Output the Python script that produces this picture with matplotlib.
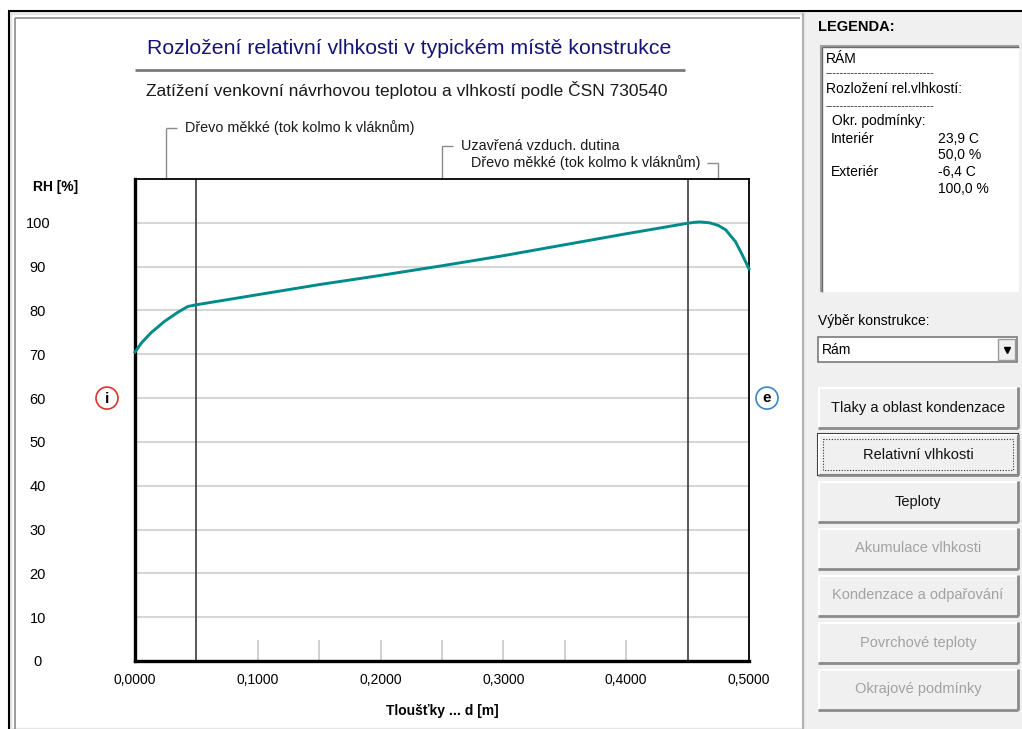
import matplotlib
matplotlib.use("Agg")
import matplotlib.pyplot as plt
from matplotlib import font_manager
from matplotlib.patches import Rectangle, Circle

# font: narrow sans like the old windows UI, if available
names = {f.name for f in font_manager.fontManager.ttflist}
narrow = "Liberation Sans Narrow" if "Liberation Sans Narrow" in names else "Liberation Sans"
plt.rcParams["font.family"] = [narrow, "DejaVu Sans"]

# data
thickness_m = [0.0, 0.005, 0.013, 0.024, 0.035, 0.043, 0.05, 0.1, 0.15, 0.2, 0.25,
               0.3, 0.35, 0.4, 0.45, 0.455, 0.46, 0.468, 0.475, 0.481, 0.489, 0.4945, 0.5]
rh_pct = [70.5, 72.5, 74.9, 77.5, 79.6, 80.9, 81.3, 83.6, 85.9, 88.0, 90.2,
          92.5, 95.0, 97.5, 99.9, 100.1, 100.2, 100.0, 99.4, 98.4, 95.7, 92.7, 89.5]
layer_edges = [0.05, 0.45]
layer_centers = [0.025, 0.25, 0.475]
layer_names = ["Dřevo měkké (tok kolmo k vláknům)", "Uzavřená vzduch. dutina",
               "Dřevo měkké (tok kolmo k vláknům)"]
xticks = [0.0, 0.1, 0.2, 0.3, 0.4, 0.5]
xticklabels = ["0,0000", "0,1000", "0,2000", "0,3000", "0,4000", "0,5000"]
minor_ticks = [0.1, 0.15, 0.2, 0.25, 0.3, 0.35, 0.4]
yticks = list(range(0, 101, 10))

legend_lines = ["RÁM", "-" * 30, "Rozložení rel.vlhkostí:", "-" * 30]
bc_rows = [("Interiér", "23,9 C"), ("", "50,0 %"), ("Exteriér", "-6,4 C"), ("", "100,0 %")]
buttons = ["Tlaky a oblast kondenzace", "Relativní vlhkosti", "Teploty",
           "Akumulace vlhkosti", "Kondenzace a odpařování", "Povrchové teploty",
           "Okrajové podmínky"]
buttons_enabled = [True, True, True, False, False, False, False]

W, H = 1022, 729
fig = plt.figure(figsize=(W / 100, H / 100), dpi=100)
fig.patch.set_facecolor("white")

# background axes in pixel coordinates (y downwards)
bg = fig.add_axes([0, 0, 1, 1], zorder=0)
bg.set_xlim(0, W)
bg.set_ylim(H, 0)
bg.axis("off")


def hline(x0, x1, y, c, lw=1.0):
    bg.plot([x0, x1], [y, y], color=c, lw=lw, solid_capstyle="butt")


def vline(x, y0, y1, c, lw=1.0):
    bg.plot([x, x], [y0, y1], color=c, lw=lw, solid_capstyle="butt")


# window frame
bg.add_patch(Rectangle((8, 11), 797, H - 11, fc="white", ec="none"))
bg.add_patch(Rectangle((805, 11), W - 805, H - 11, fc="#f0f0f0", ec="none"))
hline(8, W, 11, "black", 1.5)
vline(8.5, 11, H, "black", 1.5)
bg.add_patch(Rectangle((10, 13), 793, H - 13, fc="none", ec="#e6e6e6", lw=2.5))
vline(15, 18, H, "#8c8c8c", 1.2)
hline(15, 800, 18, "#8c8c8c", 1.2)
vline(803, 13, H, "#a8a8a8", 1.2)

# main chart
ax = fig.add_axes([135 / W, 1 - 661 / H, 614 / W, 482 / H], zorder=2)
ax.set_xlim(0, 0.5)
ax.set_ylim(0, 110)
ax.set_yticks(yticks)
ax.set_xticks(xticks)
ax.set_xticklabels(xticklabels)
ax.tick_params(length=0, labelsize=10)
ax.tick_params(axis="y", pad=70, labelsize=10.5)
for lab in ax.get_yticklabels():
    lab.set_horizontalalignment("center")
ax.tick_params(axis="x", pad=9)
ax.yaxis.grid(True, color="#d6d6d6", lw=1.5)
ax.set_axisbelow(True)
for side in ["left", "bottom"]:
    ax.spines[side].set_linewidth(2.4)
for side in ["top", "right"]:
    ax.spines[side].set_linewidth(1.3)
ax.vlines(minor_ticks, 0, 4.8, color="#c8c8c8", lw=1.2)
for e in layer_edges:
    ax.axvline(e, color="#3c3c3c", lw=1.2)
ax.plot(thickness_m, rh_pct, color="#008b8b", lw=2.1, clip_on=False, zorder=5)
ax.set_xlabel("Tloušťky ... d [m]", fontweight="bold", fontsize=10, labelpad=12)

fig.canvas.draw()
rend = fig.canvas.get_renderer()


def to_px(x, y):
    dx, dy = ax.transData.transform((x, y))
    return dx, H - dy


def fit(t, width):
    bb = t.get_window_extent(rend)
    t.set_fontsize(t.get_fontsize() * width / bb.width)
    return t.get_fontsize()


# titles
t = bg.text(409, 48, "Rozložení relativní vlhkosti v typickém místě konstrukce",
            color="#141478", fontsize=15, ha="center", va="center")
fit(t, 528)
hline(135, 685, 70, "#7a7a7a", 2.0)
t = bg.text(407, 90, "Zatížení venkovní návrhovou teplotou a vlhkostí podle ČSN 730540",
            color="#1a1a1a", fontsize=11, ha="center", va="center")
fit(t, 518)

# layer labels with leaders (one font size, taken from the first label)
label_y = [128, 146, 163]
top_y = to_px(0, 110)[1]
label_fs = 9.5
for i, (c, name) in enumerate(zip(layer_centers, layer_names)):
    px = to_px(c, 110)[0]
    vline(px, label_y[i], top_y, "#8a8a8a", 1.0)
    if i < 2:
        hline(px, px + 11, label_y[i], "#8a8a8a", 1.0)
        t = bg.text(px + 19, label_y[i], name, fontsize=label_fs, ha="left",
                    va="center", color="#1a1a1a")
    else:
        hline(px - 11, px, label_y[i], "#8a8a8a", 1.0)
        t = bg.text(px - 18, label_y[i], name, fontsize=label_fs, ha="right",
                    va="center", color="#1a1a1a")
    if i == 0:
        label_fs = fit(t, 228)

bg.text(56, 187, "RH [%]", fontsize=10, fontweight="bold", ha="center", va="center")

# interior / exterior markers
y60 = to_px(0, 60)[1]
bg.add_patch(Circle((107, y60), 11, fc="white", ec="#e03030", lw=1.2))
bg.text(107, y60 + 1, "i", fontsize=11, fontweight="bold", ha="center", va="center")
bg.add_patch(Circle((767, y60), 11, fc="white", ec="#3a86c8", lw=1.2))
bg.text(767, y60, "e", fontsize=11, fontweight="bold", ha="center", va="center")

# right panel: legend
bg.text(818, 27, "LEGENDA:", fontsize=10.5, fontweight="bold", ha="left", va="center")
bg.add_patch(Rectangle((820, 45), 199, 247, fc="white", ec="none"))
hline(820, 1019, 45.5, "#a0a0a0", 1.5)
vline(820.5, 45, 292, "#a0a0a0", 1.5)
hline(822, 1019, 47, "#6a6a6a", 1.0)
vline(822, 47, 292, "#6a6a6a", 1.0)
legend_y = [59, 73, 89, 106]
for y, s in zip(legend_y, legend_lines):
    if s.startswith("-"):
        t = bg.text(826, y, s, fontsize=6, ha="left", va="center", color="#222222")
        fit(t, 108)
    else:
        bg.text(826, y, s, fontsize=10, ha="left", va="center")
bg.text(832, 121, "Okr. podmínky:", fontsize=10, ha="left", va="center")
row_y = [139, 155, 172, 189]
for y, (a, b) in zip(row_y, bc_rows):
    bg.text(831, y, a, fontsize=10, ha="left", va="center")
    bg.text(938, y, b, fontsize=10, ha="left", va="center")

# construction selector
bg.text(818, 321, "Výběr konstrukce:", fontsize=10, ha="left", va="center")
bg.add_patch(Rectangle((818, 337), 199, 25, fc="white", ec="#7a7a7a", lw=1.2))
bg.add_patch(Rectangle((998, 339), 17, 21, fc="#f0f0f0", ec="#9a9a9a", lw=1.0))
bg.plot([1006.5], [350], marker="v", color="black", ms=5)
bg.text(822, 350, "Rám", fontsize=10, ha="left", va="center")

# buttons
btn_top = 387
for i, (name, on) in enumerate(zip(buttons, buttons_enabled)):
    y0 = btn_top + i * 47
    bg.add_patch(Rectangle((818, y0), 200, 41, fc="#f0f0f0", ec="none"))
    hline(818, 1018, y0 + 0.5, "white", 1.5)
    vline(818.5, y0, y0 + 41, "white", 1.5)
    hline(818, 1018, y0 + 40.5, "#8a8a8a", 2.0)
    vline(1017.5, y0, y0 + 41, "#8a8a8a", 2.0)
    if name == "Relativní vlhkosti":
        bg.add_patch(Rectangle((818, y0), 200, 41, fc="none", ec="#3a3a3a", lw=1.5))
        bg.add_patch(Rectangle((823, y0 + 5), 190, 31, fc="none", ec="#333333",
                               lw=0.8, ls=(0, (1, 1.5))))
    bg.text(918, y0 + 20.5, name, fontsize=10.5, ha="center", va="center",
            color="#111111" if on else "#a2a2a2")

fig.savefig("out.png", dpi=100)
